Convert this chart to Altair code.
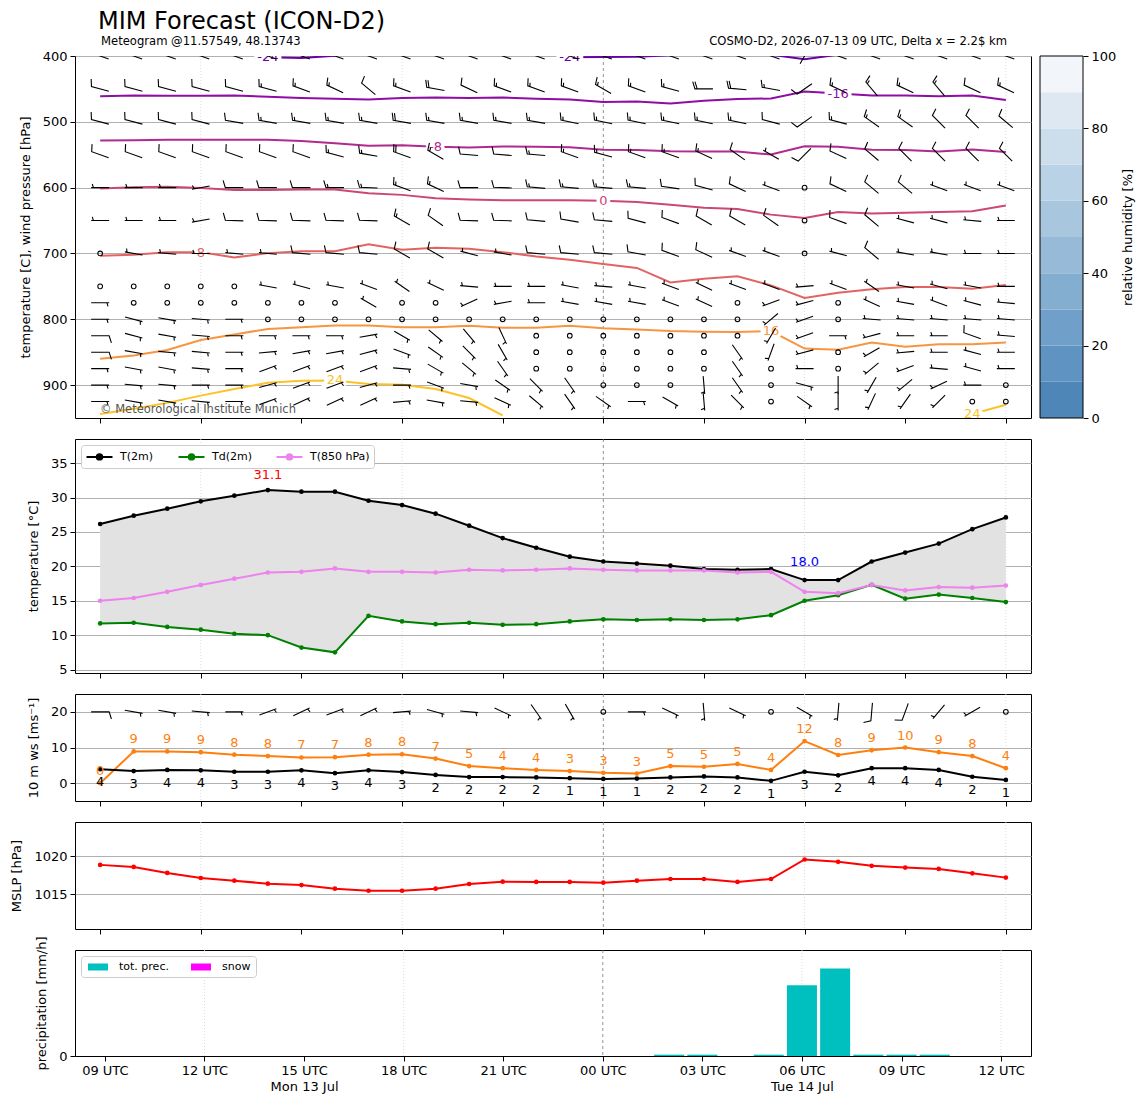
import altair as alt
import pandas as pd

FONT = "DejaVu Sans"

# ---------------- time axis (hours after 2026-07-13 09 UTC) ----------------
HOURS = list(range(28))
TICK_HOURS = [0, 3, 6, 9, 12, 15, 18, 21, 24, 27]
TICK_LABELS = ["09 UTC", "12 UTC", "15 UTC", "18 UTC", "21 UTC",
               "00 UTC", "03 UTC", "06 UTC", "09 UTC", "12 UTC"]
DATE_HOURS = [6, 21]
DATE_LABELS = ["Mon 13 Jul", "Tue 14 Jul"]
GRID_HOURS = [3, 9, 21, 27]
MIDNIGHT_HOURS = [15]
X_DOMAIN = [-0.75, 27.75]

TITLE = "MIM Forecast (ICON-D2)"
SUBTITLE = "Meteogram @11.57549, 48.13743"
MODEL_INFO = "COSMO-D2, 2026-07-13 09 UTC, Delta x = 2.2$ km"
COPYRIGHT = "\u00a9 Meteorological Institute Munich"

# ---------------- 2 m temperatures ----------------
T2M = [26.15, 27.36, 28.37, 29.44, 30.26, 31.08, 30.84, 30.84, 29.53, 28.9, 27.65, 25.9, 24.1, 22.7,
       21.4, 20.7, 20.4, 20.1, 19.6, 19.5, 19.6, 18.0, 18.0, 20.7, 22.0, 23.3, 25.4, 27.1]
TD2M = [11.7, 11.8, 11.2, 10.8, 10.2, 10.0, 8.2, 7.5, 12.8, 12.0, 11.6, 11.8, 11.5, 11.6,
        12.0, 12.3, 12.2, 12.3, 12.2, 12.3, 12.9, 15.0, 15.8, 17.3, 15.3, 15.9, 15.4, 14.8]
T850 = [15.0, 15.4, 16.3, 17.3, 18.2, 19.1, 19.2, 19.7, 19.2, 19.2, 19.1, 19.5, 19.4, 19.5,
        19.7, 19.5, 19.4, 19.4, 19.4, 19.1, 19.2, 16.3, 16.1, 17.3, 16.5, 17.0, 16.9, 17.2]
TEMP_SERIES = ["T(2m)", "Td(2m)", "T(850 hPa)"]
TEMP_COLORS = ["#000000", "#008000", "#ee82ee"]

# ---------------- 10 m wind ----------------
WS10 = [3.9, 3.4, 3.7, 3.6, 3.2, 3.2, 3.6, 2.8, 3.6, 3.1, 2.3, 1.7, 1.7, 1.6,
        1.4, 1.2, 1.3, 1.6, 1.9, 1.6, 0.65, 3.2, 2.2, 4.2, 4.2, 3.7, 1.8, 0.9]
GUST10 = [0.0, 8.9, 8.9, 8.7, 8.0, 7.6, 7.2, 7.3, 8.0, 8.1, 6.9, 4.8, 4.2, 3.7,
          3.4, 2.9, 2.7, 4.8, 4.6, 5.4, 3.7, 11.8, 7.9, 9.2, 10.0, 8.7, 7.6, 4.2]
W10_DIR = [90, 100, 100, 95, 90, 70, 65, 70, 65, 85, 105, 95, 115, 145,
           150, 0, 90, 115, 175, 115, 0, 120, 185, 185, 200, 220, 240, 0]
W10_SPD = [10, 5, 5, 5, 5, 5, 5, 5, 5, 5, 5, 5, 5, 5,
           5, 0, 5, 5, 5, 5, 0, 5, 5, 10, 10, 5, 5, 0]
W10_BARB_LEVEL = 20

# ---------------- mean sea level pressure ----------------
MSLP = [1018.85, 1018.58, 1017.79, 1017.12, 1016.77, 1016.37, 1016.19, 1015.71, 1015.44, 1015.44,
        1015.71, 1016.33, 1016.64, 1016.6, 1016.6, 1016.5, 1016.77, 1016.99, 1016.99, 1016.6,
        1016.99, 1019.56, 1019.25, 1018.72, 1018.5, 1018.32, 1017.74, 1017.17]

# ---------------- precipitation ----------------
PREC_HOURS = [17, 18, 20, 21, 22, 23, 24, 25]
PREC_VALS = [0.015, 0.015, 0.015, 0.80, 0.99, 0.015, 0.015, 0.015]
PREC_KINDS = ["tot. prec.", "snow"]
PREC_COLORS = ["#00bfbf", "#ff00ff"]

# ---------------- relative humidity colour bar ----------------
RH_LEVELS = [0, 10, 20, 30, 40, 50, 60, 70, 80, 90]
RH_COLORS = ["#4f86b8", "#5f93c1", "#70a0c9", "#83aed0", "#96bad7",
             "#a8c6de", "#bad2e5", "#ccdeec", "#dde8f2", "#f2f6fb"]

# ---------------- upper-air temperature contours (pressure in hPa) ----------------
LVL_NAMES = ["-24", "-16", "-8", "0", "8", "16", "24"]
LVL_COLORS = ["#6a00a8", "#8f0da4", "#b12a90", "#cc4778", "#e16462", "#f89540", "#fcc229"]
C_M24_HOURS = [[5, 6, 7], [14, 15, 16, 17], [20, 21, 22]]
C_M24_P = [[402, 403, 399.5], [402, 401.5, 401, 399], [398, 405, 398]]
C_M16 = [461, 460, 460.5, 460.5, 460, 462, 464, 465, 466, 464, 463, 464, 463, 465,
         466, 470, 469, 472, 468, 465.5, 464.5, 454, 457, 460, 460, 461, 460, 467]
C_M8 = [528.4, 528, 527.4, 527.4, 527.4, 527.4, 529, 532.5, 536.5, 535.5, 538, 539, 537.5, 538,
        538.6, 542.6, 543, 544.7, 545, 545, 549.7, 537, 538, 542.6, 543, 545, 542, 545.7]
C_0 = [601.5, 599.5, 598.5, 600.5, 603.5, 603.5, 603, 603, 608.6, 611, 616, 618, 619, 619,
       619, 620, 622, 626, 630.5, 632.5, 641, 646, 637, 639.4, 638, 637, 636, 627]
C_8 = [703.5, 702, 698, 698, 706, 699.5, 696.5, 696.5, 686, 694.5, 691.4, 693, 698, 704.6,
       709.6, 716, 722, 744, 738.5, 734.5, 748.5, 767.5, 759.6, 754.5, 751, 751, 753.5, 748]
C_16 = [860, 855, 846.7, 831.5, 823, 814.7, 812, 809.6, 809.6, 812, 812, 810, 812.7, 812.7,
        810, 813.7, 815.7, 818, 818.8, 819.3, 818, 844.5, 846.4, 835.3, 841.9, 837.8, 837.8, 835.3]
C_24A_HOURS = list(range(13))
C_24A = [944, 936, 927, 916, 906, 896.5, 893.5, 893, 898.5, 899.5, 906, 919.6, 946]
C_24B_HOURS = [26, 27]
C_24B = [944, 930]

CLABEL_LEVEL = ["-24", "-24", "-16", "-8", "0", "8", "16", "24", "24"]
CLABEL_HOUR = [5, 14, 22, 10, 15, 3, 20, 7, 26]
CLABEL_P = [402, 402, 457, 538, 620, 699, 818, 893, 944]

# ---------------- upper-air wind barbs ----------------
LEVELS = [400, 450, 500, 550, 600, 650, 700, 750, 775, 800, 825, 850, 875, 900, 925]
WIND_DIR = {
    400: [290] * 21 + [30] + [290] * 6,
    450: [285, 285, 285, 285, 285, 285, 290, 295, 310, 290, 280, 295, 290, 290,
          290, 300, 290, 285, 270, 275, 280, 235, 295, 320, 295, 320, 295, 295],
    500: [285, 285, 285, 285, 280, 280, 280, 280, 280, 280, 280, 280, 280, 280,
          282, 282, 282, 282, 282, 282, 285, 235, 285, 305, 305, 315, 315, 310],
    550: [290, 290, 290, 290, 290, 290, 290, 285, 280, 290, 300, 275, 275, 275,
          290, 285, 290, 290, 295, 305, 300, 225, 295, 310, 315, 315, 315, 315],
    600: [270, 270, 270, 260, 270, 270, 270, 270, 272, 290, 295, 270, 272, 275,
          275, 275, 275, 278, 285, 295, 290, 0, 295, 310, 310, 290, 290, 290],
    650: [270, 270, 270, 260, 272, 272, 272, 272, 272, 300, 305, 272, 272, 275,
          280, 275, 285, 290, 300, 300, 305, 0, 290, 310, 285, 285, 275, 270],
    700: [0, 280, 275, 270, 275, 275, 275, 275, 275, 300, 300, 285, 280, 275,
          275, 275, 280, 290, 295, 290, 290, 0, 285, 310, 280, 280, 270, 270],
    750: [0, 0, 0, 0, 0, 280, 285, 280, 290, 305, 295, 275, 270, 270,
          280, 275, 280, 290, 295, 290, 290, 265, 290, 305, 280, 285, 280, 270],
    775: [90, 0, 0, 0, 0, 0, 0, 0, 300, 0, 0, 245, 260, 270,
          280, 280, 280, 290, 295, 0, 250, 255, 0, 295, 280, 290, 285, 275],
    800: [90, 105, 100, 95, 90, 0, 0, 0, 0, 0, 0, 0, 0, 0,
          0, 0, 0, 0, 0, 0, 230, 250, 0, 275, 275, 275, 275, 275],
    825: [90, 105, 100, 95, 90, 90, 90, 90, 80, 120, 130, 140, 155, 0,
          0, 0, 0, 0, 0, 0, 210, 250, 90, 255, 270, 270, 290, 275],
    850: [90, 100, 95, 95, 90, 85, 80, 80, 75, 110, 125, 135, 150, 0,
          0, 0, 0, 0, 0, 145, 200, 255, 0, 240, 265, 270, 285, 270],
    875: [90, 100, 100, 95, 90, 70, 70, 70, 70, 95, 120, 130, 145, 0,
          0, 0, 0, 0, 0, 145, 0, 270, 0, 230, 250, 275, 285, 270],
    900: [90, 95, 95, 90, 90, 75, 70, 70, 75, 90, 110, 100, 125, 135,
          145, 0, 0, 0, 175, 145, 0, 105, 180, 210, 230, 245, 270, 0],
    925: [90, 100, 100, 95, 90, 70, 65, 65, 65, 85, 100, 95, 115, 130,
          145, 125, 90, 120, 175, 135, 0, 125, 180, 205, 215, 225, 0, 0],
}
WIND_SPD = {
    400: [15] * 21 + [10] + [15] * 6,
    450: [10, 10, 10, 10, 10, 15, 15, 15, 10, 15, 20, 10, 15, 15,
          15, 15, 15, 15, 20, 20, 15, 10, 15, 15, 15, 15, 10, 15],
    500: [10, 10, 10, 10, 10, 15, 15, 15, 15, 20, 15, 15, 15, 15,
          15, 15, 15, 15, 15, 15, 10, 10, 15, 15, 15, 10, 10, 10],
    550: [10, 10, 10, 10, 10, 10, 10, 15, 15, 20, 15, 10, 10, 15,
          15, 15, 15, 15, 15, 10, 5, 10, 10, 10, 10, 10, 10, 10],
    600: [5, 5, 5, 5, 10, 10, 10, 15, 15, 15, 15, 10, 10, 15,
          15, 15, 15, 10, 10, 10, 5, 0, 10, 10, 10, 5, 5, 5],
    650: [5, 5, 5, 5, 10, 10, 10, 10, 10, 15, 10, 10, 10, 10,
          10, 10, 10, 10, 10, 10, 10, 0, 10, 10, 5, 5, 5, 5],
    700: [0, 5, 5, 5, 5, 5, 10, 10, 10, 10, 10, 5, 5, 10,
          10, 10, 10, 10, 10, 5, 5, 0, 5, 10, 5, 5, 5, 5],
    750: [0, 0, 0, 0, 0, 5, 5, 5, 5, 5, 5, 5, 5, 5,
          5, 5, 5, 5, 5, 5, 5, 5, 5, 5, 5, 5, 5, 5],
    775: [5, 0, 0, 0, 0, 0, 0, 0, 5, 0, 0, 5, 5, 5,
          5, 5, 5, 5, 5, 0, 5, 5, 0, 5, 5, 5, 5, 5],
    800: [5, 5, 5, 5, 5, 0, 0, 0, 0, 0, 0, 0, 0, 0,
          0, 0, 0, 0, 0, 0, 5, 5, 0, 5, 5, 5, 5, 5],
    825: [10, 5, 5, 5, 5, 5, 5, 5, 5, 5, 5, 5, 5, 0,
          0, 0, 0, 0, 0, 0, 5, 5, 5, 5, 5, 5, 10, 5],
    850: [10, 5, 5, 5, 5, 5, 5, 5, 5, 5, 5, 5, 5, 0,
          0, 0, 0, 0, 0, 5, 5, 5, 0, 5, 5, 5, 5, 5],
    875: [5, 5, 5, 5, 5, 5, 5, 5, 5, 5, 5, 5, 5, 0,
          0, 0, 0, 0, 0, 5, 0, 5, 0, 5, 5, 5, 5, 5],
    900: [5, 5, 5, 5, 5, 5, 5, 5, 5, 5, 5, 5, 5, 5,
          5, 0, 0, 0, 5, 5, 0, 5, 5, 5, 5, 5, 5, 0],
    925: [5, 5, 5, 5, 5, 5, 5, 5, 5, 5, 5, 5, 5, 5,
          5, 5, 5, 5, 5, 5, 0, 5, 5, 5, 5, 5, 0, 0],
}

# barb glyphs: staff pointing north (pivot in the middle), feathers at the upwind end
GLYPH_OF_SPEED = {0: "calm", 5: "h", 10: "f", 15: "fh", 20: "ff"}
GLYPHS = ["h", "f", "fh", "ff"]
GLYPH_PATHS = [
    "M0,1L0,-1M0,-0.75L0.4,-0.875",
    "M0,1L0,-1L0.8,-1.25",
    "M0,1L0,-1L0.8,-1.25M0,-0.75L0.4,-0.875",
    "M0,1L0,-1L0.8,-1.25M0,-0.75L0.8,-1",
]
BARB_SIZE = 324
# legend glyphs (wide paths inside a small symbol box so the legend rows stay compact)
LEGEND_LINE = "M-2,0L2,0M0.42,0A0.42,0.42,0,1,1,-0.42,0A0.42,0.42,0,1,1,0.42,0"
LEGEND_PATCH = "M-2,-0.7L2,-0.7L2,0.7L-2,0.7Z"

W = 956
CB_LEFT = 965     # colour bar placed 9 px right of the upper panel
CB_RIGHT = 1008


# ======================= helpers =======================
def x_enc(labels=False):
    if labels:
        names = "[" + ",".join("'%s'" % s for s in TICK_LABELS) + "]"
        second = "''"
        for h, s in zip(DATE_HOURS, DATE_LABELS):
            second = "datum.value == %d ? '%s' : (%s)" % (h, s, second)
        expr = "[%s[round(datum.value / 3)], %s]" % (names, second)
        axis = alt.Axis(values=TICK_HOURS, labelExpr=expr, title=None, grid=False, domain=False,
                        ticks=True, tickSize=5, labelPadding=3, labelLineHeight=16,
                        labelFontSize=13, labelBaseline="top", labelFlush=False)
    else:
        axis = alt.Axis(values=TICK_HOURS, labels=False, title=None, grid=False, domain=False,
                        ticks=True, tickSize=5)
    return alt.X("hour:Q", scale=alt.Scale(domain=X_DOMAIN, nice=False, zero=False), axis=axis)


def grid_rules(labels=False):
    a = alt.Chart(pd.DataFrame({"hour": GRID_HOURS})).mark_rule(
        color="#d2d2d2", strokeDash=[1, 2], strokeWidth=0.8).encode(x=x_enc(labels))
    b = alt.Chart(pd.DataFrame({"hour": MIDNIGHT_HOURS})).mark_rule(
        color="#777777", strokeDash=[3, 3], strokeWidth=0.8).encode(x=x_enc(labels))
    return [a, b]


def y_axis(values, title, grid=True):
    return alt.Axis(values=values, title=title, grid=grid, tickSize=5, labelPadding=3,
                    titlePadding=10, domain=False, format="d")


# ======================= panel 1: upper air =======================
Y1_SCALE = alt.Scale(domain=[400, 950], reverse=True, nice=False, zero=False)
Y1_AXIS = y_axis([400, 500, 600, 700, 800, 900], "temperature [C], wind pressure [hPa]")


def y1(field):
    return alt.Y(field, scale=Y1_SCALE, axis=Y1_AXIS)


crow = []
for hs, ps in zip(C_M24_HOURS, C_M24_P):
    seg = "m24_%d" % hs[0]
    crow += [{"hour": h, "p": p, "lvl": "-24", "seg": seg} for h, p in zip(hs, ps)]
for name, vals in [("-16", C_M16), ("-8", C_M8), ("0", C_0), ("8", C_8), ("16", C_16)]:
    crow += [{"hour": h, "p": p, "lvl": name, "seg": name} for h, p in zip(HOURS, vals)]
crow += [{"hour": h, "p": p, "lvl": "24", "seg": "24a"} for h, p in zip(C_24A_HOURS, C_24A)]
crow += [{"hour": h, "p": p, "lvl": "24", "seg": "24b"} for h, p in zip(C_24B_HOURS, C_24B)]
contour_df = pd.DataFrame(crow)
clabel_df = pd.DataFrame({"hour": CLABEL_HOUR, "p": CLABEL_P, "lvl": CLABEL_LEVEL})

lvl_color = alt.Color("lvl:N", scale=alt.Scale(domain=LVL_NAMES, range=LVL_COLORS), legend=None)

brow = []
for lev in LEVELS:
    for h, d, s in zip(HOURS, WIND_DIR[lev], WIND_SPD[lev]):
        brow.append({"hour": h, "p": lev, "dir": d, "spd": s, "glyph": GLYPH_OF_SPEED[s]})
barb_df = pd.DataFrame(brow)

glyph_shape = alt.Shape("glyph:N", scale=alt.Scale(domain=GLYPHS, range=GLYPH_PATHS), legend=None)

p1_lines = alt.Chart(contour_df).mark_line(strokeWidth=2, clip=True).encode(
    x=x_enc(), y=y1("p:Q"), color=lvl_color, detail="seg:N", order="hour:Q")
p1_halo = alt.Chart(clabel_df).mark_text(fontSize=13, color="white", stroke="white",
                                         strokeWidth=7, clip=True).encode(
    x=x_enc(), y=y1("p:Q"), text="lvl:N")
p1_ltxt = alt.Chart(clabel_df).mark_text(fontSize=13, clip=True).encode(
    x=x_enc(), y=y1("p:Q"), text="lvl:N", color=lvl_color)
p1_barbs = alt.Chart(barb_df).transform_filter("datum.spd > 0").mark_point(
    filled=False, color="black", strokeWidth=1.1, size=BARB_SIZE, opacity=1, clip=True).encode(
    x=x_enc(), y=y1("p:Q"), shape=glyph_shape, angle=alt.Angle("dir:Q", scale=None))
p1_calm = alt.Chart(barb_df).transform_filter("datum.spd == 0").mark_point(
    shape="circle", filled=False, color="black", strokeWidth=1.1, size=22, opacity=1, clip=True).encode(
    x=x_enc(), y=y1("p:Q"))
txt_df = pd.DataFrame({"title": [TITLE], "sub": [SUBTITLE], "info": [MODEL_INFO], "copy": [COPYRIGHT]})
p1_title = alt.Chart(txt_df).mark_text(align="left", baseline="alphabetic", fontSize=24,
                                       color="black").encode(
    x=alt.value(23), y=alt.value(-27), text="title:N")
p1_sub = alt.Chart(txt_df).mark_text(align="left", baseline="alphabetic", fontSize=11.6,
                                     color="black").encode(
    x=alt.value(26), y=alt.value(-11), text="sub:N")
p1_info = alt.Chart(txt_df).mark_text(align="right", baseline="alphabetic", fontSize=11.6,
                                      color="black").encode(
    x=alt.value(932), y=alt.value(-11), text="info:N")
p1_copy = alt.Chart(txt_df).mark_text(align="left", baseline="middle", fontSize=11.5,
                                      color="#555555").encode(
    x=alt.value(25), y=alt.value(354), text="copy:N")

p1_main = alt.layer(*grid_rules(), p1_lines, p1_halo, p1_ltxt, p1_barbs, p1_calm,
                    p1_title, p1_sub, p1_info, p1_copy)

# relative humidity colour bar, drawn to the right of the upper panel
cb_df = pd.DataFrame({"lo": RH_LEVELS, "hi": [v + 10 for v in RH_LEVELS],
                      "band": [str(v) for v in RH_LEVELS]})
CB_SCALE = alt.Scale(domain=[0, 100], nice=False, zero=False)
CB_AXIS = alt.Axis(orient="right", offset=CB_RIGHT - W, values=[0, 20, 40, 60, 80, 100], grid=False,
                   domain=False, tickSize=5, labelPadding=3, title="relative humidity [%]",
                   titleAngle=270, titleBaseline="top", titlePadding=6, format="d")
cb_bands = alt.Chart(cb_df).mark_rect().encode(
    x=alt.value(CB_LEFT), x2=alt.value(CB_RIGHT),
    y=alt.Y("lo:Q", scale=CB_SCALE, axis=CB_AXIS), y2="hi:Q",
    color=alt.Color("band:N", scale=alt.Scale(domain=[str(v) for v in RH_LEVELS], range=RH_COLORS),
                    legend=None))
cb_frame = alt.Chart(pd.DataFrame({"lo": [0], "hi": [100]})).mark_rect(
    fillOpacity=0, stroke="black", strokeWidth=1).encode(
    x=alt.value(CB_LEFT), x2=alt.value(CB_RIGHT),
    y=alt.Y("lo:Q", scale=CB_SCALE, axis=CB_AXIS), y2="hi:Q")
cb_layer = alt.layer(cb_bands, cb_frame)

p1 = alt.layer(p1_main, cb_layer).resolve_scale(
    y="independent", color="independent").properties(width=W, height=362)

# ======================= panel 2: temperatures =======================
Y2_SCALE = alt.Scale(domain=[4.5, 38.5], nice=False, zero=False)
Y2_AXIS = y_axis([5, 10, 15, 20, 25, 30, 35], "temperature [\u00b0C]")

temp_wide = pd.DataFrame({"hour": HOURS, "t2m": T2M, "td2m": TD2M})
temp_long = pd.DataFrame({
    "hour": HOURS * 3,
    "val": T2M + TD2M + T850,
    "series": [TEMP_SERIES[0]] * 28 + [TEMP_SERIES[1]] * 28 + [TEMP_SERIES[2]] * 28,
})
temp_color_scale = alt.Scale(domain=TEMP_SERIES, range=TEMP_COLORS)
temp_legend = alt.Legend(orient="top-left", direction="horizontal", title=None,
                         symbolType=LEGEND_LINE, symbolSize=169, symbolStrokeWidth=2,
                         symbolOffset=7, labelOffset=13, labelFontSize=11,
                         fillColor="white", strokeColor="#cccccc",
                         padding=4, cornerRadius=3, offset=6, columnPadding=20)

imax = max(HOURS, key=lambda i: T2M[i])
imin = min(HOURS, key=lambda i: T2M[i])
ext_max = pd.DataFrame({"hour": [imax], "val": [T2M[imax]], "txt": ["%.1f" % T2M[imax]]})
ext_min = pd.DataFrame({"hour": [imin], "val": [T2M[imin]], "txt": ["%.1f" % T2M[imin]]})

p2_area = alt.Chart(temp_wide).mark_area(color="#e2e2e2", opacity=1).encode(
    x=x_enc(), y=alt.Y("t2m:Q", scale=Y2_SCALE, axis=Y2_AXIS), y2="td2m:Q")
p2_lines = alt.Chart(temp_long).mark_line(strokeWidth=2).encode(
    x=x_enc(), y=alt.Y("val:Q", scale=Y2_SCALE, axis=Y2_AXIS),
    color=alt.Color("series:N", scale=temp_color_scale, legend=temp_legend))
p2_pts = alt.Chart(temp_long).mark_point(filled=True, size=22, opacity=1).encode(
    x=x_enc(), y=alt.Y("val:Q", scale=Y2_SCALE, axis=Y2_AXIS),
    color=alt.Color("series:N", scale=temp_color_scale, legend=None))
p2_max = alt.Chart(ext_max).mark_text(color="red", fontSize=13, dy=-15).encode(
    x=x_enc(), y=alt.Y("val:Q", scale=Y2_SCALE, axis=Y2_AXIS), text="txt:N")
p2_min = alt.Chart(ext_min).mark_text(color="blue", fontSize=13, dy=-18).encode(
    x=x_enc(), y=alt.Y("val:Q", scale=Y2_SCALE, axis=Y2_AXIS), text="txt:N")
p2 = alt.layer(*grid_rules(), p2_area, p2_lines, p2_pts, p2_max, p2_min).properties(width=W, height=234)

# ======================= panel 3: 10 m wind =======================
Y3_SCALE = alt.Scale(domain=[-5, 25], nice=False, zero=False)
Y3_AXIS = y_axis([0, 10, 20], "10 m ws [ms\u207b\u00b9]")
w_df = pd.DataFrame({"hour": HOURS, "ws": WS10, "gust": GUST10})
w10_df = pd.DataFrame({"hour": HOURS, "dir": W10_DIR, "spd": W10_SPD,
                       "glyph": [GLYPH_OF_SPEED[s] for s in W10_SPD]})
ORANGE = "#ff7f0e"
p3_gust = alt.Chart(w_df).mark_line(color=ORANGE, strokeWidth=2, point=alt.OverlayMarkDef(
    filled=True, size=22, color=ORANGE, opacity=1)).encode(
    x=x_enc(), y=alt.Y("gust:Q", scale=Y3_SCALE, axis=Y3_AXIS))
p3_ws = alt.Chart(w_df).mark_line(color="black", strokeWidth=2, point=alt.OverlayMarkDef(
    filled=True, size=22, color="black", opacity=1)).encode(
    x=x_enc(), y=alt.Y("ws:Q", scale=Y3_SCALE, axis=Y3_AXIS))
p3_wslab = alt.Chart(w_df).transform_calculate(lab="round(datum.ws)").mark_text(
    color="black", fontSize=13, dy=13).encode(
    x=x_enc(), y=alt.Y("ws:Q", scale=Y3_SCALE, axis=Y3_AXIS), text="lab:N")
p3_glab = alt.Chart(w_df).transform_calculate(lab="round(datum.gust)").mark_text(
    color=ORANGE, fontSize=13, dy=-12).encode(
    x=x_enc(), y=alt.Y("gust:Q", scale=Y3_SCALE, axis=Y3_AXIS), text="lab:N")
p3_barbs = alt.Chart(w10_df).transform_filter("datum.spd > 0").mark_point(
    filled=False, color="black", strokeWidth=1.1, size=BARB_SIZE, opacity=1).encode(
    x=x_enc(), y=alt.YDatum(W10_BARB_LEVEL, type="quantitative", scale=Y3_SCALE, axis=Y3_AXIS),
    shape=glyph_shape, angle=alt.Angle("dir:Q", scale=None))
p3_calm = alt.Chart(w10_df).transform_filter("datum.spd == 0").mark_point(
    shape="circle", filled=False, color="black", strokeWidth=1.1, size=22, opacity=1).encode(
    x=x_enc(), y=alt.YDatum(W10_BARB_LEVEL, type="quantitative", scale=Y3_SCALE, axis=Y3_AXIS))
p3 = alt.layer(*grid_rules(), p3_gust, p3_ws, p3_wslab, p3_glab, p3_barbs, p3_calm).properties(
    width=W, height=107)

# ======================= panel 4: MSLP =======================
Y4_SCALE = alt.Scale(domain=[1010.4, 1024.5], nice=False, zero=False)
Y4_AXIS = y_axis([1015, 1020], "MSLP [hPa]")
p_df = pd.DataFrame({"hour": HOURS, "mslp": MSLP})
p4_line = alt.Chart(p_df).mark_line(color="#ff0000", strokeWidth=2, point=alt.OverlayMarkDef(
    filled=True, size=22, color="#ff0000", opacity=1)).encode(
    x=x_enc(), y=alt.Y("mslp:Q", scale=Y4_SCALE, axis=Y4_AXIS))
p4 = alt.layer(*grid_rules(), p4_line).properties(width=W, height=107)

# ======================= panel 5: precipitation =======================
Y5_SCALE = alt.Scale(domain=[0, 1.2], nice=False, zero=False)
Y5_AXIS = y_axis([0], "precipitation [mm/h]", grid=False)
pr_df = pd.DataFrame({"hour": PREC_HOURS, "prec": PREC_VALS, "kind": [PREC_KINDS[0]] * len(PREC_HOURS)})
p5_bars = alt.Chart(pr_df).mark_bar(size=30, opacity=1).encode(
    x=x_enc(True), y=alt.Y("prec:Q", scale=Y5_SCALE, axis=Y5_AXIS),
    color=alt.Color("kind:N", scale=alt.Scale(domain=PREC_KINDS, range=PREC_COLORS),
                    legend=alt.Legend(orient="top-left", direction="horizontal", title=None,
                                      symbolType=LEGEND_PATCH, symbolSize=100, symbolOffset=6,
                                      labelOffset=15, labelFontSize=11,
                                      fillColor="white", strokeColor="#cccccc", padding=5,
                                      cornerRadius=3, offset=6, columnPadding=20,
                                      symbolOpacity=1)))
p5 = alt.layer(*grid_rules(True), p5_bars).properties(width=W, height=106)

chart = alt.vconcat(p1, p2, p3, p4, p5, spacing=21, bounds="flush").resolve_scale(
    color="independent", shape="independent", y="independent", x="independent"
).properties(
    padding={"left": 2, "top": 1, "right": 2, "bottom": 5}
).configure(font=FONT).configure_view(
    stroke="black", strokeWidth=1
).configure_axis(
    labelFont=FONT, titleFont=FONT, labelColor="black", titleColor="black", tickColor="black",
    labelFontSize=13, titleFontSize=13, titleFontWeight="normal", gridColor="#b0b0b0",
    gridWidth=1
).configure_legend(labelFont=FONT, labelColor="black")

chart.save("out.html", embed_options={"renderer": "svg", "actions": False})
